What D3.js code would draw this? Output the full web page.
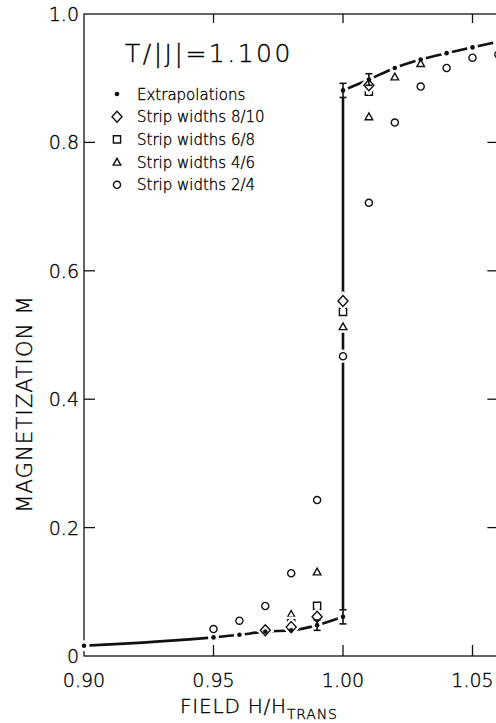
<!DOCTYPE html>
<html>
<head>
<meta charset="utf-8">
<script src="https://cdn.jsdelivr.net/npm/d3@7"></script>
<style>
  html, body { margin: 0; padding: 0; background: #fff; }
  svg { display: block; font-family: "DejaVu Sans", sans-serif; }
  svg text { font-weight: 200; fill: #000; stroke: #000; stroke-width: 0.35px; }
</style>
</head>
<body>
<div id="chart"></div>
<script>
// ---- data ----
const xTicks = [0.90, 0.95, 1.00, 1.05];
const xTickLabels = ["0.90", "0.95", "1.00", "1.05"];
const yTicks = [0, 0.2, 0.4, 0.6, 0.8, 1.0];
const yTickLabels = ["0", "0.2", "0.4", "0.6", "0.8", "1.0"];

// extrapolations (dots + dash-dot line), two branches
const lowH = [0.90, 0.95, 0.96, 0.97, 0.98, 0.99, 1.00];
const lowM = [0.016, 0.029, 0.033, 0.038, 0.040, 0.048, 0.061];
const highH = [1.00, 1.01, 1.02, 1.03, 1.04, 1.05, 1.06];
const highM = [0.881, 0.898, 0.916, 0.929, 0.939, 0.948, 0.957];

// error bars on extrapolations
const errH = [0.99, 1.00, 1.00, 1.01];
const errM = [0.048, 0.061, 0.881, 0.898];
const errD = [0.008, 0.011, 0.011, 0.009];

// strip widths 8/10 (diamonds)
const s810H = [0.97, 0.98, 0.99, 1.00, 1.01];
const s810M = [0.040, 0.045, 0.061, 0.553, 0.889];
// strip widths 6/8 (squares)
const s68H = [0.98, 0.99, 1.00, 1.01];
const s68M = [0.051, 0.078, 0.536, 0.879];
// strip widths 4/6 (triangles)
const s46H = [0.97, 0.98, 0.99, 1.00, 1.01, 1.02, 1.03];
const s46M = [0.047, 0.065, 0.131, 0.513, 0.840, 0.902, 0.923];
// strip widths 2/4 (circles)
const s24H = [0.95, 0.96, 0.97, 0.98, 0.99, 1.00, 1.01, 1.02, 1.03, 1.04, 1.05, 1.06];
const s24M = [0.042, 0.055, 0.078, 0.129, 0.243, 0.467, 0.706, 0.831, 0.887, 0.916, 0.932, 0.937];

const legendLabels = ["Extrapolations", "Strip widths 8/10", "Strip widths 6/8", "Strip widths 4/6", "Strip widths 2/4"];
const legendShapes = ["dot", "diamond", "square", "triangle", "circle"];

// ---- layout ----
const W = 496, H = 723;
const svg = d3.select("#chart").append("svg").attr("width", W).attr("height", H);

const x = d3.scaleLinear().domain([0.90, 1.06]).range([84, 498.4]);
const y = d3.scaleLinear().domain([0, 1]).range([656, 14]);

const ink = "#111";

// frame
svg.append("rect")
  .attr("x", x(0.90)).attr("y", y(1))
  .attr("width", x(1.06) - x(0.90)).attr("height", y(0) - y(1))
  .attr("fill", "none").attr("stroke", ink).attr("stroke-width", 1.3);

// ticks (inward)
svg.append("g").selectAll("line").data(xTicks.slice(1)).join("line")
  .attr("x1", d => x(d)).attr("x2", d => x(d))
  .attr("y1", y(0)).attr("y2", y(0) - 11)
  .attr("stroke", ink).attr("stroke-width", 1.3);
svg.append("g").selectAll("line").data(xTicks.slice(1)).join("line")
  .attr("x1", d => x(d)).attr("x2", d => x(d))
  .attr("y1", y(1)).attr("y2", y(1) + 9)
  .attr("stroke", ink).attr("stroke-width", 1.3);
svg.append("g").selectAll("line").data(yTicks.slice(1, -1)).join("line")
  .attr("x1", x(0.90)).attr("x2", x(0.90) + 11)
  .attr("y1", d => y(d)).attr("y2", d => y(d))
  .attr("stroke", ink).attr("stroke-width", 1.3);
svg.append("g").selectAll("line").data(yTicks.slice(1, -1)).join("line")
  .attr("x1", x(1.06)).attr("x2", x(1.06) - 11)
  .attr("y1", d => y(d)).attr("y2", d => y(d))
  .attr("stroke", ink).attr("stroke-width", 1.3);

// tick labels
svg.append("g").selectAll("text").data(xTicks).join("text")
  .attr("x", d => x(d)).attr("y", 687)
  .attr("text-anchor", "middle")
  .style("font-size", "19px")
  .text((d, i) => xTickLabels[i]);
svg.append("g").selectAll("text").data(yTicks).join("text")
  .attr("x", 79).attr("y", d => y(d) + 7)
  .attr("text-anchor", "end")
  .style("font-size", "19px")
  .text((d, i) => yTickLabels[i]);

// axis titles
const xt = svg.append("text").attr("x", 180).attr("y", 713)
  .style("font-size", "20px").style("letter-spacing", "0.8px");
xt.append("tspan").text("FIELD  H/H");
xt.append("tspan").attr("dy", 6).style("font-size", "14px").text("TRANS");

svg.append("text")
  .attr("transform", "translate(32,404) rotate(-90)")
  .attr("text-anchor", "middle")
  .style("font-size", "21px").style("letter-spacing", "1.2px")
  .text("MAGNETIZATION  M");

// title inside plot
svg.append("text").attr("x", 125).attr("y", 62)
  .style("font-size", "25px").style("letter-spacing", "2.5px")
  .text("T/|J|=1.100");

// ---- marker shapes ----
function shapePath(kind) {
  if (kind === "diamond") return "M0,-5.5L5,0L0,5.5L-5,0Z";
  if (kind === "square") return "M-3.6,-3.6H3.6V3.6H-3.6Z";
  if (kind === "triangle") return "M0,-3.8L3.8,3H-3.8Z";
  if (kind === "circle") return d3.symbol(d3.symbolCircle, 40)();
  return null;
}

function drawMarker(g, kind, cx, cy, halo) {
  if (kind === "dot") {
    if (halo) g.append("circle").attr("cx", cx).attr("cy", cy).attr("r", 5.5).attr("fill", "#fff");
    g.append("circle").attr("cx", cx).attr("cy", cy).attr("r", 2.3).attr("fill", ink);
    return;
  }
  const p = shapePath(kind);
  if (halo) g.append("path").attr("d", p).attr("transform", `translate(${cx},${cy})`)
    .attr("fill", "#fff").attr("stroke", "#fff").attr("stroke-width", 6);
  g.append("path").attr("d", p).attr("transform", `translate(${cx},${cy})`)
    .attr("fill", "#fff").attr("stroke", ink).attr("stroke-width", 1.4);
}

// ---- lines ----
const plot = svg.append("g");
const line = d3.line().x(d => x(d[0])).y(d => y(d[1])).curve(d3.curveMonotoneX);

plot.append("path").datum(lowH.map((h, i) => [h, lowM[i]]))
  .attr("d", line).attr("fill", "none").attr("stroke", ink).attr("stroke-width", 2.6);
plot.append("path").datum(highH.map((h, i) => [h, highM[i]]))
  .attr("d", line).attr("fill", "none").attr("stroke", ink).attr("stroke-width", 2.6);

// vertical jump at H = H_trans
plot.append("line")
  .attr("x1", x(1.00)).attr("x2", x(1.00))
  .attr("y1", y(errM[1] + errD[1])).attr("y2", y(errM[2] - errD[2]))
  .attr("stroke", ink).attr("stroke-width", 2.6);

// breaks in the line at each extrapolated point
const dots = svg.append("g");
lowH.concat(highH).forEach((h, i) => {
  const m = i < lowH.length ? lowM[i] : highM[i - lowH.length];
  dots.append("circle").attr("cx", x(h)).attr("cy", y(m)).attr("r", 5.5).attr("fill", "#fff");
});

// strip-width data
const marks = svg.append("g");
const series = [
  ["circle", s24H, s24M],
  ["triangle", s46H, s46M],
  ["square", s68H, s68M],
  ["diamond", s810H, s810M]
];
series.forEach(([kind, hs, ms]) => {
  hs.forEach((h, i) => drawMarker(marks, kind, x(h), y(ms[i]), true));
});

// error bars and dots on top
const eb = svg.append("g");
errH.forEach((h, i) => {
  const cx = x(h), y0 = y(errM[i] - errD[i]), y1 = y(errM[i] + errD[i]);
  eb.append("line").attr("x1", cx).attr("x2", cx).attr("y1", y0).attr("y2", y1)
    .attr("stroke", ink).attr("stroke-width", 1.6);
  [y0, y1].forEach(yy => eb.append("line")
    .attr("x1", cx - 3.5).attr("x2", cx + 3.5).attr("y1", yy).attr("y2", yy)
    .attr("stroke", ink).attr("stroke-width", 1.6));
});
lowH.concat(highH).forEach((h, i) => {
  const m = i < lowH.length ? lowM[i] : highM[i - lowH.length];
  eb.append("circle").attr("cx", x(h)).attr("cy", y(m)).attr("r", 2.3).attr("fill", ink);
});

// ---- legend ----
const leg = svg.append("g");
legendLabels.forEach((lab, i) => {
  const cy = 94 + i * 22.7;
  drawMarker(leg, legendShapes[i], 117, cy, false);
  leg.append("text").attr("x", 137).attr("y", cy + 5.5)
    .style("font-size", "15px")
    .text(lab);
});
</script>
</body>
</html>
